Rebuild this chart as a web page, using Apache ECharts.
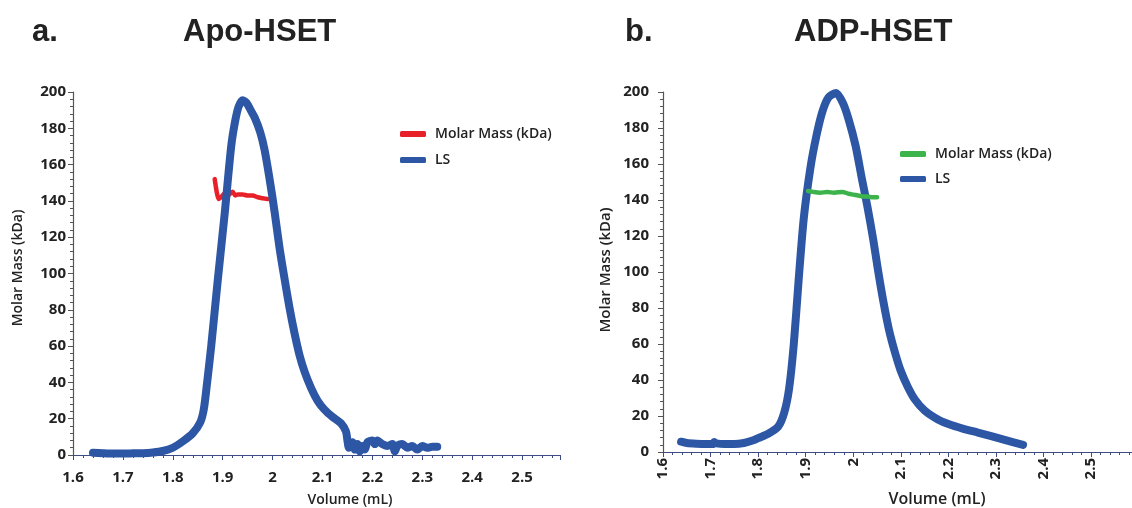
<!DOCTYPE html>
<html>
<head>
<meta charset="utf-8">
<script src="https://cdn.jsdelivr.net/npm/echarts@6/dist/echarts.min.js"></script>
<style>html,body{margin:0;padding:0;background:#fff}#c{width:1132px;height:508px}</style>
</head>
<body>
<div id="c"></div>
<script>
// ---- Data ----
const xTickLabels = ['1.6','1.7','1.8','1.9','2','2.1','2.2','2.3','2.4','2.5'];
const yTickLabels = ['0','20','40','60','80','100','120','140','160','180','200'];

// Panel a: Apo-HSET
const apoLSVol = [1.64,1.66,1.68,1.70,1.72,1.74,1.76,1.78,1.80,1.82,1.84,1.855,1.862,1.868,1.877,1.89,1.904,1.917,1.925,1.932,1.94,1.948,1.956,1.964,1.975,1.984,1.994,2.004,2.014,2.024,2.034,2.044,2.054,2.064,2.077,2.09,2.104,2.12,2.137,2.147,2.15,2.153,2.16,2.165,2.17,2.175,2.18,2.185,2.19,2.20,2.205,2.21,2.215,2.22,2.23,2.24,2.245,2.25,2.26,2.27,2.28,2.29,2.30,2.31,2.32,2.33];
const apoLS    = [1.3,1.0,0.8,0.8,0.9,1.0,1.4,2.2,4.0,7.5,12,18,25,38,60,96,133,170,184,192,195.5,194,190,186,178,168,152,134,114,97,81,67,55,46,37,30,25,21,17.5,13,8,4,7,3,6,2,5,3,7,8,6,8,7,6,5,6,2,5,6,4,5,3,5,4,4.5,4.5];
const apoMMVol = [1.884,1.888,1.892,1.897,1.903,1.91,1.915,1.92,1.925,1.93,1.94,1.95,1.96,1.97,1.98,1.99];
const apoMM    = [152,145,141,142,144,143,144,145,143,143.5,143.5,143,143,142,141.5,141];

// Panel b: ADP-HSET
const adpLSVol = [1.638,1.65,1.67,1.69,1.705,1.708,1.712,1.73,1.75,1.77,1.79,1.80,1.82,1.842,1.855,1.865,1.875,1.885,1.896,1.91,1.922,1.935,1.948,1.964,1.978,1.99,2.005,2.018,2.03,2.042,2.052,2.063,2.075,2.088,2.10,2.115,2.13,2.15,2.178,2.20,2.23,2.262,2.29,2.32,2.357];
const adpLS    = [5.7,5.0,4.6,4.4,4.4,5.5,4.8,4.4,4.4,5.0,6.5,7.7,10,14,22,35,60,95,130,158,175,189,197,199.5,194,185,170,152,136,118,101,84,68,55,45,36,29,23,18,15.5,13,10.8,8.8,6.6,4.0];
const adpMMVol = [1.905,1.915,1.93,1.945,1.96,1.977,1.99,2.0,2.01,2.02,2.03,2.04,2.05];
const adpMM    = [145,144.5,144,144.5,144,144.5,143.5,143,142.5,142,142,141.5,141.5];

const zip = (a,b)=>a.map((v,i)=>[v,b[i]]);

const BLUE = '#2d56a5', RED = '#e82129', GREEN = '#3cb44b';
const AXC = '#3c4a86';
const FONT = '"Open Sans", sans-serif';

function xAxis(gi, max, rotate, margin, fs){
  return {
    type:'value', gridIndex:gi, min:1.6, max:max, interval:0.1,
    axisLine:{show:true, onZero:false, lineStyle:{color:AXC, width:1.2}},
    axisTick:{show:true, length:5, lineStyle:{color:AXC}},
    minorTick:{show:true, splitNumber:5, length:3, lineStyle:{color:AXC}},
    splitLine:{show:false},
    axisLabel:{showMaxLabel:false, rotate:rotate, margin:margin, color:'#222', fontFamily:FONT, fontWeight:'bold', fontSize:fs,
      formatter:(v)=>{const i=Math.round((v-1.6)/0.1); return xTickLabels[i]!==undefined?xTickLabels[i]:'';}}
  };
}
function yAxis(gi, margin, fs){
  return {
    type:'value', gridIndex:gi, min:0, max:200, interval:20,
    axisLine:{show:true, lineStyle:{color:'#555', width:1.2}},
    axisTick:{show:true, length:5, lineStyle:{color:'#555'}},
    minorTick:{show:true, splitNumber:5, length:3, lineStyle:{color:'#555'}},
    splitLine:{show:false},
    axisLabel:{margin:margin, color:'#222', fontFamily:FONT, fontWeight:'bold', fontSize:fs,
      formatter:(v)=>{const i=Math.round(v/20); return yTickLabels[i];}}
  };
}
function lineSeries(name, xi, data, color, width, z){
  return {type:'line', name:name, xAxisIndex:xi, yAxisIndex:xi, data:data, showSymbol:false, symbol:'none',
    smooth:0.25, lineStyle:{color:color, width:width, cap:'round', join:'round'}, itemStyle:{color:color}, animation:false, z:z};
}

const chart = echarts.init(document.getElementById('c'));
chart.setOption({
  backgroundColor:'#fff',
  animation:false,
  grid:[
    {left:73, top:92, width:487, height:363},
    {left:663, top:92, width:469, height:360}
  ],
  xAxis:[xAxis(0, 2.576, 0, 15, 15), xAxis(1, 2.586, 90, 6, 15)],
  yAxis:[yAxis(0, 7, 15), yAxis(1, 14, 15)],
  legend:[
    {left:395, top:122, orient:'vertical', itemGap:12, itemWidth:26, itemHeight:6, icon:'roundRect',
     data:['Molar Mass (kDa)|a','LS|a'], formatter:(n)=>n.split('|')[0],
     textStyle:{fontFamily:FONT, fontWeight:600, fontSize:14, color:'#222', padding:[0,0,0,4]}},
    {left:895, top:142, orient:'vertical', itemGap:11, itemWidth:26, itemHeight:6, icon:'roundRect',
     data:['Molar Mass (kDa)|b','LS|b'], formatter:(n)=>n.split('|')[0],
     textStyle:{fontFamily:FONT, fontWeight:600, fontSize:14, color:'#222', padding:[0,0,0,4]}}
  ],
  series:[
    lineSeries('LS|a', 0, zip(apoLSVol, apoLS), BLUE, 8, 2),
    lineSeries('Molar Mass (kDa)|a', 0, zip(apoMMVol, apoMM), RED, 4.5, 1),
    lineSeries('LS|b', 1, zip(adpLSVol, adpLS), BLUE, 8, 2),
    lineSeries('Molar Mass (kDa)|b', 1, zip(adpMMVol, adpMM), GREEN, 4.5, 3)
  ],
  graphic:[
    {type:'text', left:32, top:17, style:{text:'a.', font:'bold 31px "Liberation Sans", Arial, sans-serif', fill:'#222'}},
    {type:'text', left:183, top:17, style:{text:'Apo-HSET', font:'bold 31px "Liberation Sans", Arial, sans-serif', fill:'#222'}},
    {type:'text', left:625, top:17, style:{text:'b.', font:'bold 31px "Liberation Sans", Arial, sans-serif', fill:'#222'}},
    {type:'text', left:794, top:17, style:{text:'ADP-HSET', font:'bold 31px "Liberation Sans", Arial, sans-serif', fill:'#222'}},
    {type:'text', x:18, y:268, rotation:Math.PI/2, style:{text:'Molar Mass (kDa)', font:'600 14px "Open Sans", sans-serif', fill:'#222', align:'center', verticalAlign:'middle'}},
    {type:'text', x:606, y:270, rotation:Math.PI/2, style:{text:'Molar Mass (kDa)', font:'600 15px "Open Sans", sans-serif', fill:'#222', align:'center', verticalAlign:'middle'}},
    {type:'text', x:350, y:500, style:{text:'Volume (mL)', font:'600 14px "Open Sans", sans-serif', fill:'#222', align:'center', verticalAlign:'middle'}},
    {type:'text', x:937, y:499, style:{text:'Volume (mL)', font:'600 16px "Open Sans", sans-serif', fill:'#222', align:'center', verticalAlign:'middle'}}
  ]
});
</script>
</body>
</html>
